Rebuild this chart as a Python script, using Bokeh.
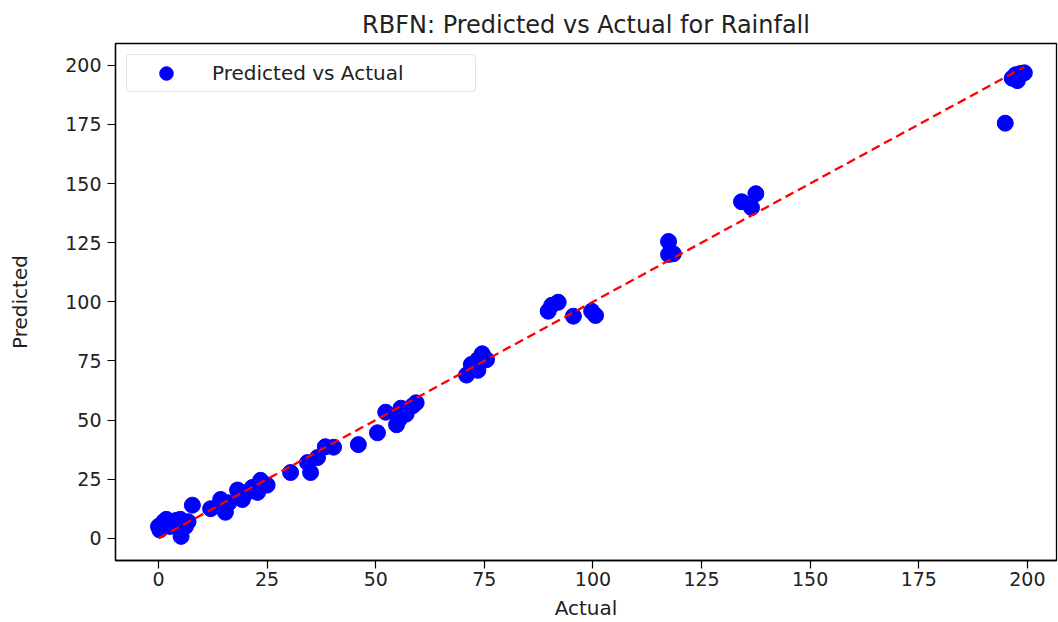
from bokeh.plotting import figure
from bokeh.models import ColumnDataSource, FixedTicker, Range1d, Legend, LegendItem
from bokeh.embed import file_html
from bokeh.resources import INLINE

# Data
actual = [0.0, 0.3, 1.2, 1.8, 2.6, 3.3, 4.0, 5.0, 5.2, 6.2, 6.8, 7.8,
          12.0, 14.3, 15.4, 16.2, 18.2, 19.3, 20.5, 21.6, 22.8, 23.5, 25.0,
          30.4, 34.3, 35.0, 36.6, 38.4, 40.3, 46.0,
          50.4, 52.3, 54.8, 55.5, 55.8, 57.0, 58.5, 59.3,
          70.9, 72.0, 73.5, 73.5, 74.5, 75.5,
          89.7, 90.5, 92.0, 95.5, 99.7, 100.6,
          117.4, 117.4, 118.5,
          134.2, 136.5, 137.5,
          194.9, 196.5, 197.7, 197.3, 198.4, 199.3]
predicted = [5.0, 3.5, 7.0, 8.0, 5.0, 6.5, 7.5, 8.0, 0.8, 5.0, 7.0, 14.0,
             12.5, 16.4, 11.0, 15.0, 20.4, 16.4, 19.5, 21.5, 19.4, 24.5, 22.5,
             27.8, 32.0, 27.8, 34.1, 38.7, 38.5, 39.6,
             44.6, 53.3, 48.0, 50.5, 55.0, 52.5, 56.0, 57.3,
             69.0, 73.5, 75.5, 71.0, 78.0, 75.5,
             96.0, 98.5, 99.8, 93.9, 96.0, 94.2,
             125.5, 120.0, 120.3,
             142.3, 139.8, 145.7,
             175.5, 194.5, 193.5, 196.0, 196.5, 196.8]
line_ends = [0.0, 199.3]
ticks = [0, 25, 50, 75, 100, 125, 150, 175, 200]

title_text = "RBFN: Predicted vs Actual for Rainfall"
FONT = "DejaVu Sans"

p = figure(width=1058, height=622, output_backend="svg", toolbar_location=None,
           x_range=Range1d(-9.9, 206.7), y_range=Range1d(-9.4, 209.2),
           min_border_left=115, min_border_right=2, min_border_top=43,
           min_border_bottom=61, title=title_text)

p.title.text_font = FONT
p.title.text_font_size = "24px"
p.title.text_font_style = "normal"
p.title.align = "center"
p.title.text_color = "#222222"
p.title.standoff = 9

src = ColumnDataSource(dict(actual=actual, predicted=predicted))
pts = p.scatter("actual", "predicted", source=src, size=16, color="#0000ff",
                line_color="#0000ff")
p.line(line_ends, line_ends, line_color="#ff0000", line_width=2.3, line_dash="9 5")

legend = Legend(items=[LegendItem(label="Predicted vs Actual", renderers=[pts])],
                location="top_left")
legend.margin = 11
legend.padding = 1
legend.spacing = 0
legend.glyph_width = 76
legend.glyph_height = 34
legend.label_standoff = 8
legend.label_width = 262
legend.label_height = 34
legend.label_text_font = FONT
legend.label_text_font_size = "20px"
legend.label_text_color = "#222222"
legend.border_line_color = "#cccccc"
legend.border_line_width = 1
legend.background_fill_alpha = 0.8
legend.border_radius = 4
p.add_layout(legend)

p.xgrid.visible = False
p.ygrid.visible = False
p.outline_line_color = "black"
p.outline_line_width = 1.3

for ax in (p.xaxis[0], p.yaxis[0]):
    ax.ticker = FixedTicker(ticks=ticks)
    ax.minor_tick_line_color = None
    ax.major_tick_in = 0
    ax.major_tick_out = 8
    ax.major_tick_line_color = "black"
    ax.major_tick_line_width = 1.2
    ax.axis_line_color = "black"
    ax.axis_line_width = 1.3
    ax.major_label_text_font = FONT
    ax.major_label_text_font_size = "19px"
    ax.major_label_text_color = "#222222"
    ax.axis_label_text_font = FONT
    ax.axis_label_text_font_size = "20px"
    ax.axis_label_text_font_style = "normal"
    ax.axis_label_text_color = "#222222"

p.xaxis.axis_label = "Actual"
p.yaxis.axis_label = "Predicted"
p.xaxis.major_label_standoff = 3
p.xaxis.axis_label_standoff = 7
p.yaxis.major_label_standoff = 6
p.yaxis.axis_label_standoff = 30

open("out.html", "w").write(file_html(p, INLINE))
